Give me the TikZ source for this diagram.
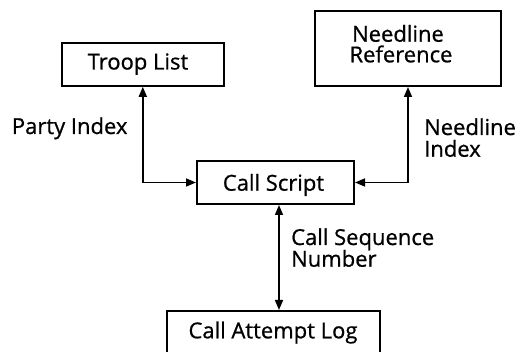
\documentclass[tikz,border=0pt]{standalone}
\usepackage{fontspec}
\setmainfont{Open Sans}
\newfontfamily\medfont{Open Sans}[FakeBold=0.8]
\usetikzlibrary{arrows.meta}
\begin{document}
\begin{tikzpicture}[x=1pt,y=-1pt,
  box/.style={draw, line width=2pt, rectangle, inner sep=0pt},
  txt/.style={font=\fontsize{22}{22}\medfont, inner sep=0pt, anchor=base},
  lbl/.style={font=\fontsize{22}{22}\medfont, inner sep=0pt, anchor=base west, align=left},
  link/.style={line width=1.6pt, {Triangle[length=10pt,width=8pt]}-{Triangle[length=10pt,width=8pt]}}]
\useasboundingbox (0,0) rectangle (523,352);
% boxes
\node[box, minimum width=162pt, minimum height=43pt] (troop) at (142.8,64.3) {};
\node[box, minimum width=186pt, minimum height=75pt] (needline) at (408,48.5) {};
\node[box, minimum width=157pt, minimum height=43pt] (script) at (275.5,182.5) {};
\node[box, minimum width=213pt, minimum height=43pt] (attempt) at (273.5,332.5) {};
% box texts
\node[txt] (trooptext) at (138,69.5) {Troop List};
\node[txt] (needtext1) at (398,41.7) {Needline};
\node[txt] (needtext2) at (401,62.3) {Reference};
\node[txt] (scripttext) at (273.5,190.7) {Call Script};
\node[txt] (attempttext) at (273,338.3) {Call Attempt Log};
% labels
\node[lbl] (party) at (11.7,134) {Party Index};
\node[lbl] (needidx1) at (424,135) {Needline};
\node[lbl] (needidx2) at (424,156.7) {Index};
\node[lbl] (callseq1) at (291,245) {Call Sequence};
\node[lbl] (callseq2) at (291,266.7) {Number};
% connectors
\coordinate (midtop) at (279,204);
\draw[link] (troop.south) |- (script.west);
\draw[link] (needline.south) |- (script.east);
\draw[link] (midtop |- script.south) -- (midtop |- attempt.north);
\end{tikzpicture}
\end{document}
